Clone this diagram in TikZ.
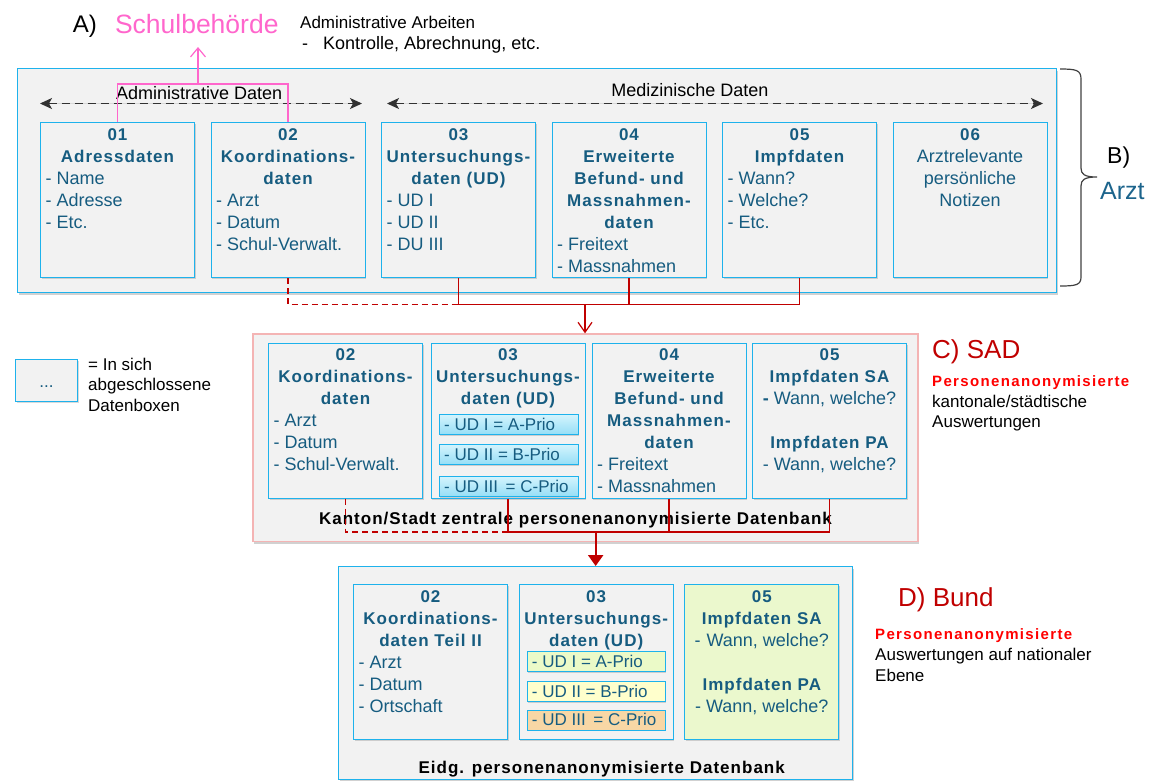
\documentclass[tikz,border=0pt]{standalone}
\usepackage{fontspec}
\setmainfont{Liberation Sans}
\newfontfamily\bw[LetterSpace=6]{Liberation Sans}
\newfontfamily\bwr[LetterSpace=9]{Liberation Sans}
\usetikzlibrary{arrows.meta,shadows,calc}
\newcommand\fstr{\rule{0pt}{13.2pt}}
\definecolor{cyb}{RGB}{30,178,236}
\definecolor{bgray}{RGB}{242,242,242}
\definecolor{tealt}{RGB}{22,92,128}
\definecolor{darkred}{RGB}{192,0,0}
\definecolor{brightred}{RGB}{255,0,0}
\definecolor{pinkc}{RGB}{255,102,204}
\definecolor{pinkbord}{RGB}{244,180,180}
\definecolor{arztc}{RGB}{28,100,140}
\definecolor{subtop}{RGB}{212,244,253}
\definecolor{subbot}{RGB}{150,222,246}
\definecolor{lgreen}{RGB}{235,250,200}
\definecolor{lyellow}{RGB}{255,255,204}
\definecolor{lorange}{RGB}{248,215,165}
\definecolor{grn05}{RGB}{235,248,205}
\definecolor{bracec}{RGB}{64,64,64}
\definecolor{arrgray}{RGB}{50,50,50}
\tikzset{
 shad/.style={drop shadow={shadow xshift=1.5pt,shadow yshift=-2pt,opacity=0.18,fill=black}},
 sshad/.style={drop shadow={shadow xshift=1pt,shadow yshift=-1.5pt,opacity=0.15,fill=black}},
 outerbox/.style={draw=cyb,line width=1.3pt,fill=bgray,anchor=north west,inner sep=0pt,shad},
 cframe/.style={draw=pinkbord,line width=1.5pt,fill=bgray,anchor=north west,inner sep=0pt,shad},
 datbox/.style={draw=cyb,line width=1pt,fill=bgray,minimum width=154pt,minimum height=155pt,anchor=north west,inner sep=0pt,sshad},
 ttl/.style={anchor=north,align=center,text=tealt,inner sep=0pt,font=\bw\bfseries\fontsize{17}{22}\selectfont},
 ctr/.style={anchor=north,align=center,text=tealt,inner sep=0pt,font=\fontsize{18}{22}\selectfont},
 itm/.style={anchor=north west,align=left,text=tealt,inner sep=0pt,font=\fontsize{18}{22}\selectfont},
 subbox/.style={draw=cyb,line width=0.8pt,minimum width=139pt,minimum height=20pt,anchor=north west,inner sep=0pt,sshad},
 subtxt/.style={anchor=base west,text=tealt,inner sep=0pt,font=\fontsize{17}{20}\selectfont},
 txt/.style={anchor=base west,inner sep=0pt},
 ctxt/.style={anchor=base,inner sep=0pt},
 redl/.style={draw=darkred,line width=1.2pt},
 reddash/.style={redl,dash pattern=on 6pt off 4pt},
 blkdash/.style={draw=arrgray,fill=arrgray,line width=1.3pt,dash pattern=on 8pt off 5pt,arrows={Stealth[length=12pt,width=11pt,inset=3pt]-Stealth[length=12pt,width=11pt,inset=3pt]}},
 pinkl/.style={draw=pinkc,line width=1.2pt},
}
\begin{document}
\begin{tikzpicture}[x=1pt,y=-1pt]
\useasboundingbox (0,0) rectangle (1150,780);

% ---------- top texts
\node[txt,font=\fontsize{24}{28}\selectfont] (lblA) at (72.7,32.7) {A)};
\node[txt,font=\fontsize{26.5}{30}\selectfont,text=pinkc] (schul) at (114.8,33.3) {Schulbehörde};
\node[txt,font=\fontsize{17}{20}\selectfont] (adm1) at (300,28.3) {Administrative Arbeiten};
\node[txt,font=\fontsize{18}{20}\selectfont] (adm2d) at (302,49.3) {-};
\node[txt,font=\fontsize{18}{20}\selectfont] (adm2) at (323,49.3) {Kontrolle, Abrechnung, etc.};

% ---------- B: Arzt
\node[outerbox,minimum width=1039pt,minimum height=224pt] (bbox) at (17,68) {};
\node[datbox] (b01) at (40,122) {};
\node[datbox] (b02) at (210.5,122) {};
\node[datbox] (b03) at (381,122) {};
\node[datbox] (b04) at (551.5,122) {};
\node[datbox] (b05) at (722,122) {};
\node[datbox] (b06) at (892.5,122) {};

\node[ttl] (t01) at ($(b01.north)+(0,4.8)$) {\fstr 01\\Adressdaten};
\node[itm] (i01) at ($(b01.north west)+(5.5,48.8)$) {\fstr- Name\\- Adresse\\- Etc.};
\node[ttl] (t02) at ($(b02.north)+(0,4.8)$) {\fstr 02\\Koordinations-\\daten};
\node[itm] (i02) at ($(b02.north west)+(5.5,70.8)$) {\fstr- Arzt\\- Datum\\- Schul-Verwalt.};
\node[ttl] (t03) at ($(b03.north)+(0,4.8)$) {\fstr 03\\Untersuchungs-\\daten (UD)};
\node[itm] (i03) at ($(b03.north west)+(5.5,70.8)$) {\fstr- UD I\\- UD II\\- DU III};
\node[ttl] (t04) at ($(b04.north)+(0,4.8)$) {\fstr 04\\Erweiterte\\Befund- und\\Massnahmen-\\daten};
\node[itm] (i04) at ($(b04.north west)+(5.5,114.8)$) {\fstr- Freitext\\- Massnahmen};
\node[ttl] (t05) at ($(b05.north)+(0,4.8)$) {\fstr 05\\Impfdaten};
\node[itm] (i05) at ($(b05.north west)+(5.5,48.8)$) {\fstr- Wann?\\- Welche?\\- Etc.};
\node[ttl] (t06) at ($(b06.north)+(0,4.8)$) {\fstr 06};
\node[ctr] (i06) at ($(b06.north)+(0,26.8)$) {\fstr Arztrelevante\\persönliche\\Notizen};

% dashed range arrows
\coordinate (adL) at (40,103.5);
\coordinate (adR) at (362,103.5);
\coordinate (mdL) at (387,103.5);
\coordinate (mdR) at (1043,103.5);
\draw[blkdash] (adL) -- (adR);
\draw[blkdash] (mdL) -- (mdR);
\node[txt,font=\fontsize{18}{20}\selectfont] (admlbl) at (116,99) {Administrative Daten};
\node[ctxt,font=\fontsize{18}{20}\selectfont] (medlbl) at (690,96) {Medizinische Daten};

% pink connector to Schulbehoerde
\coordinate (pkmid) at (198,84);
\coordinate (pktip) at (198,47);
\draw[pinkl] (b01.north) |- (b02.north |- pkmid) -- (b02.north);
\draw[pinkl,-{Straight Barb[length=9pt,width=15pt]}] (pkmid) -- (pktip);

% brace
\draw[bracec,line width=1.2pt] (1060,69) .. controls (1076,69) and (1081,70) .. (1081,79)
  -- (1081,168) .. controls (1081,174) and (1084,177) .. (1097,177)
  .. controls (1084,177) and (1081,180) .. (1081,186)
  -- (1081,277) .. controls (1081,285) and (1076,286) .. (1060,286);
\node[txt,font=\fontsize{23}{26}\selectfont] (lblB) at (1107,163) {B)};
\node[txt,font=\fontsize{25}{28}\selectfont,text=arztc] (arzt) at (1100,199.3) {Arzt};

% legend
\node[datbox,minimum width=62pt,minimum height=42pt] (leg) at (15,359) {};
\node[ctxt,text=tealt,font=\fontsize{17}{20}\selectfont] (legdots) at (leg.center |- 0,387) {...};
\node[txt,font=\fontsize{17}{20}\selectfont] (leg1) at (88,370) {= In sich};
\node[txt,font=\fontsize{17}{20}\selectfont] (leg2) at (88,390.7) {abgeschlossene};
\node[txt,font=\fontsize{17}{20}\selectfont] (leg3) at (88,411.7) {Datenboxen};

% ---------- C: SAD
\node[cframe,minimum width=665pt,minimum height=207.5pt] (cbox) at (252,333.3) {};
\node[datbox] (c02) at (268,342.5) {};
\node[datbox] (c03) at (430.5,342.5) {};
\node[datbox] (c04) at (591.5,342.5) {};
\node[datbox] (c05) at (752,342.5) {};

\node[ttl] (tc02) at ($(c02.north)+(0,4.8)$) {\fstr 02\\Koordinations-\\daten};
\node[itm] (ic02) at ($(c02.north west)+(5.5,70.8)$) {\fstr- Arzt\\- Datum\\- Schul-Verwalt.};
\node[ttl] (tc03) at ($(c03.north)+(0,4.8)$) {\fstr 03\\Untersuchungs-\\daten (UD)};
\node[subbox,top color=subtop,bottom color=subbot] (cs1) at (439,414) {};
\node[subbox,top color=subtop,bottom color=subbot] (cs2) at (439,444) {};
\node[subbox,top color=subtop,bottom color=subbot] (cs3) at (439,476) {};
\node[subtxt] (cst1) at ($(cs1.west)+(5,6)$) {- UD I = A-Prio};
\node[subtxt] (cst2) at ($(cs2.west)+(5,6)$) {- UD II = B-Prio};
\node[subtxt] (cst3) at ($(cs3.west)+(5,6)$) {- UD III\hspace{3pt} = C-Prio};
\node[ttl] (tc04) at ($(c04.north)+(0,4.8)$) {\fstr 04\\Erweiterte\\Befund- und\\Massnahmen-\\daten};
\node[itm] (ic04) at ($(c04.north west)+(5.5,114.8)$) {\fstr- Freitext\\- Massnahmen};
\node[ttl] (tc05) at ($(c05.north)+(0,4.8)$) {\fstr 05\\Impfdaten SA};
\node[ctr] (ic05a) at ($(c05.north)+(0,48.8)$) {\fstr\textbf{-} Wann, welche?};
\node[ttl] (tc05b) at ($(c05.north)+(0,92.8)$) {\fstr Impfdaten PA};
\node[ctr] (ic05b) at ($(c05.north)+(0,114.8)$) {\fstr- Wann, welche?};
\node[ctxt,font=\bw\bfseries\fontsize{17}{20}\selectfont] (clabel) at (575.5,524.3) {Kanton/Stadt zentrale personenanonymisierte Datenbank};

\node[txt,font=\fontsize{26}{30}\selectfont,text=darkred] (csad) at (932,358.3) {C) SAD};
\node[txt,font=\bwr\bfseries\fontsize{15}{18}\selectfont,text=brightred] (cpers) at (932,386) {Personenanonymisierte};
\node[txt,font=\fontsize{17}{20}\selectfont] (ckant) at (932,407.3) {kantonale/städtische};
\node[txt,font=\fontsize{17}{20}\selectfont] (causw) at (932,427.3) {Auswertungen};

% ---------- D: Bund
\node[outerbox,minimum width=514pt,minimum height=213pt] (dbox) at (338,566) {};
\node[datbox] (d02) at (353,584.3) {};
\node[datbox] (d03) at (518.7,584.3) {};
\node[datbox,fill=grn05] (d05) at (684.3,584.3) {};

\node[ttl] (td02) at ($(d02.north)+(0,4.8)$) {\fstr 02\\Koordinations-\\daten Teil II};
\node[itm] (id02) at ($(d02.north west)+(5.5,70.8)$) {\fstr- Arzt\\- Datum\\- Ortschaft};
\node[ttl] (td03) at ($(d03.north)+(0,4.8)$) {\fstr 03\\Untersuchungs-\\daten (UD)};
\node[subbox,minimum width=138pt,fill=lgreen] (ds1) at (526.7,650.7) {};
\node[subbox,minimum width=138pt,fill=lyellow] (ds2) at (526.7,680.7) {};
\node[subbox,minimum width=138pt,fill=lorange] (ds3) at (526.7,709.5) {};
\node[subtxt] (dst1) at ($(ds1.west)+(5,6)$) {- UD I = A-Prio};
\node[subtxt] (dst2) at ($(ds2.west)+(5,6)$) {- UD II = B-Prio};
\node[subtxt] (dst3) at ($(ds3.west)+(5,6)$) {- UD III\hspace{3pt} = C-Prio};
\node[ttl] (td05) at ($(d05.north)+(0,4.8)$) {\fstr 05\\Impfdaten SA};
\node[ctr] (id05a) at ($(d05.north)+(0,48.8)$) {\fstr-\hspace{6pt}Wann, welche?};
\node[ttl] (td05b) at ($(d05.north)+(0,92.8)$) {\fstr Impfdaten PA};
\node[ctr] (id05b) at ($(d05.north)+(0,114.8)$) {\fstr- Wann, welche?};
\node[ctxt,font=\bw\bfseries\fontsize{17}{20}\selectfont] (dlabel) at (601.7,773.3) {Eidg. personenanonymisierte Datenbank};

\node[txt,font=\fontsize{26}{30}\selectfont,text=darkred] (dbund) at (898,606.7) {D) Bund};
\node[txt,font=\bwr\bfseries\fontsize{15}{18}\selectfont,text=brightred] (dpers) at (875,639.3) {Personenanonymisierte};
\node[txt,font=\fontsize{17}{20}\selectfont] (dausw) at (875,660.7) {Auswertungen auf nationaler};
\node[txt,font=\fontsize{17}{20}\selectfont] (debene) at (875,681) {Ebene};

% ---------- red connectors B -> C
\coordinate (jBC) at (585,304.5);
\draw[reddash] (b02.south) |- (b03.south |- jBC);
\draw[redl] (b03.south) |- (b05.south |- jBC) -- (b05.south);
\draw[redl] (b04.south) -- (b04.south |- jBC);
\draw[redl,-{Straight Barb[length=10pt,width=14pt]}] (jBC) -- (jBC |- cbox.north);

% ---------- red connectors C -> D
\coordinate (jCD) at (dbox.north |- 0,532);
\draw[reddash] (c02.south) |- (c03.south |- jCD);
\draw[redl] (c03.south) |- (c05.south |- jCD) -- (c05.south);
\draw[redl] (c04.south) -- (c04.south |- jCD);
\draw[redl,line width=2.2pt,-{Triangle[length=11pt,width=15pt]}] (jCD) -- (dbox.north);
\end{tikzpicture}
\end{document}
